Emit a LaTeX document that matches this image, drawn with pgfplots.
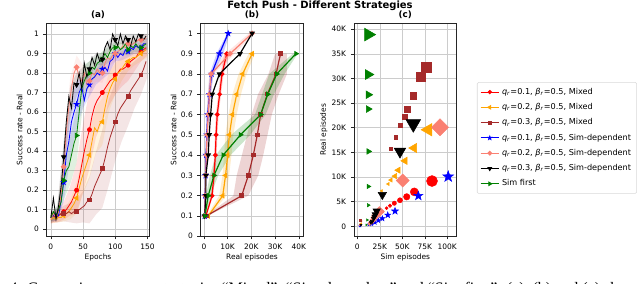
\documentclass[border=0pt]{standalone}
\usepackage{fontspec}
\setmainfont{DejaVu Sans}
\newfontfamily\capfont{Liberation Serif}
\usepackage{pgfplots}
\pgfplotsset{compat=1.18}
\usepackage{pgfplotstable}

\definecolor{mred}{HTML}{FF0000}
\definecolor{morange}{HTML}{FFA500}
\definecolor{mbrown}{HTML}{A52A2A}
\definecolor{mblue}{HTML}{0000FF}
\definecolor{msalmon}{HTML}{FA8072}
\definecolor{mgreen}{HTML}{008000}

\pgfdeclareplotmark{fstar}{%
 \pgfpathmoveto{\pgfpointpolar{90}{\pgfplotmarksize}}%
 \pgfpathlineto{\pgfpointpolar{126}{0.4\pgfplotmarksize}}%
 \pgfpathlineto{\pgfpointpolar{162}{\pgfplotmarksize}}%
 \pgfpathlineto{\pgfpointpolar{198}{0.4\pgfplotmarksize}}%
 \pgfpathlineto{\pgfpointpolar{234}{\pgfplotmarksize}}%
 \pgfpathlineto{\pgfpointpolar{270}{0.4\pgfplotmarksize}}%
 \pgfpathlineto{\pgfpointpolar{306}{\pgfplotmarksize}}%
 \pgfpathlineto{\pgfpointpolar{342}{0.4\pgfplotmarksize}}%
 \pgfpathlineto{\pgfpointpolar{18}{\pgfplotmarksize}}%
 \pgfpathlineto{\pgfpointpolar{54}{0.4\pgfplotmarksize}}%
 \pgfpathclose
 \pgfusepathqfillstroke}

% ---------- panel (a): learning curves ----------
\pgfplotstableread{
e   red  orange brown blue salmon black green
0   0.06 0.05 0.06 0.06 0.05 0.06 0.06
4   0.07 0.06 0.07 0.07 0.08 0.16 0.09
8   0.06 0.05 0.06 0.08 0.06 0.05 0.07
12  0.07 0.06 0.07 0.07 0.09 0.12 0.10
16  0.08 0.06 0.08 0.15 0.18 0.22 0.14
20  0.09 0.07 0.08 0.24 0.32 0.37 0.25
24  0.10 0.08 0.08 0.38 0.50 0.55 0.30
28  0.12 0.09 0.09 0.45 0.63 0.68 0.32
32  0.14 0.11 0.08 0.55 0.72 0.62 0.38
36  0.17 0.13 0.09 0.60 0.80 0.75 0.44
40  0.20 0.16 0.09 0.64 0.83 0.74 0.48
44  0.26 0.21 0.10 0.70 0.78 0.80 0.60
48  0.33 0.26 0.11 0.73 0.76 0.72 0.72
52  0.40 0.30 0.12 0.66 0.80 0.85 0.76
56  0.46 0.34 0.14 0.72 0.74 0.78 0.79
60  0.51 0.38 0.15 0.74 0.76 0.82 0.80
64  0.58 0.45 0.18 0.77 0.80 0.88 0.83
68  0.63 0.52 0.22 0.78 0.79 0.84 0.82
72  0.66 0.50 0.25 0.80 0.82 0.90 0.85
76  0.68 0.54 0.28 0.79 0.80 0.86 0.86
80  0.70 0.55 0.31 0.82 0.80 0.87 0.87
84  0.72 0.62 0.36 0.83 0.85 0.93 0.90
88  0.74 0.68 0.42 0.81 0.88 0.96 0.88
92  0.76 0.72 0.47 0.86 0.87 0.92 0.91
96  0.77 0.75 0.51 0.87 0.89 1.00 0.93
100 0.79 0.77 0.55 0.90 0.90 0.97 0.93
104 0.80 0.80 0.59 0.88 0.91 0.94 0.94
108 0.82 0.81 0.62 0.90 0.92 1.00 0.92
112 0.82 0.83 0.64 0.89 0.94 0.95 0.93
116 0.83 0.85 0.66 0.92 0.93 0.99 0.95
120 0.84 0.86 0.68 0.91 0.95 0.97 0.92
124 0.86 0.87 0.71 0.93 0.94 0.94 0.94
128 0.87 0.88 0.73 0.92 0.95 0.99 0.93
132 0.88 0.88 0.75 0.94 0.96 0.96 0.95
136 0.90 0.89 0.77 0.93 0.97 1.00 0.93
140 0.91 0.90 0.79 0.93 0.97 0.99 0.93
144 0.92 0.91 0.82 0.95 0.97 0.97 0.94
148 0.93 0.92 0.86 0.95 0.98 0.99 0.95
}\curvesA

% ---------- panel (b): real episodes (K) per success level ----------
\pgfplotstableread{
y   x
0.1 0.8
0.2 3.4
0.3 4.2
0.4 4.8
0.5 5.1
0.6 5.6
0.7 6.6
0.8 7.6
0.9 9.6
}\redB
\pgfplotstableread{
y   x
0.1 1.8
0.2 7.9
0.3 9.1
0.4 10.0
0.5 10.7
0.6 12.0
0.7 13.8
0.8 16.3
0.9 20.3
}\orangeB
\pgfplotstableread{
y   x
0.1 1.0
0.2 15.9
0.3 18.7
0.4 20.8
0.5 22.5
0.6 23.9
0.7 26.7
0.8 30.4
0.9 32.3
}\brownB
\pgfplotstableread{
y   x
0.1 0.3
0.2 0.5
0.3 0.7
0.4 0.9
0.5 1.2
0.6 1.6
0.7 2.3
0.8 3.2
0.9 6.5
1.0 10.2
}\blueB
\pgfplotstableread{
y   x
0.1 0.3
0.2 0.5
0.3 0.7
0.4 1.0
0.5 1.3
0.6 1.8
0.7 2.3
0.8 3.0
0.9 11.0
1.0 20.3
}\salmonB
\pgfplotstableread{
y   x
0.1 0.3
0.2 0.8
0.3 0.8
0.4 1.8
0.5 2.2
0.6 2.8
0.7 3.5
0.8 6.5
0.9 15.2
1.0 20.3
}\blackB
\pgfplotstableread{
y   x
0.1 0.4
0.2 1.8
0.3 4.2
0.4 8.1
0.5 15.4
0.6 23.9
0.7 26.9
0.8 30.7
0.9 38.8
}\greenB

% ---------- panel (c): sim episodes (K), real episodes (K), marker radius (pt) ----------
\pgfplotstableread{
x    y    r
4.0  1.1  0.75
28.0 3.0  0.95
32.5 3.7  1.1
36.3 4.2  1.3
41.1 4.7  1.6
47.4 5.3  1.9
54.9 6.0  2.4
63.3 7.0  3.0
83.0 9.2  4.1
}\redC
\pgfplotstableread{
x    y    r
4.0  0.5  0.9
27.0 7.2  1.1
34.4 8.6  1.35
37.4 9.4  1.8
41.9 10.2 2.25
45.6 11.4 2.7
53.0 13.3 3.15
63.0 15.9 4.0
78.9 19.6 5.4
}\orangeC
\pgfplotstableread{
x    y    r
3.8  1.3  0.75
37.1 15.7 1.1
43.0 18.1 1.3
48.2 20.6 1.5
53.0 22.2 1.9
56.0 23.8 2.25
62.2 26.5 2.6
70.4 30.3 3.4
76.3 32.3 3.75
}\brownC
\pgfplotstableread{
x     y    r
3.0   0.1  0.8
13.0  0.4  1.2
15.9  0.5  1.4
19.6  0.8  1.6
23.3  1.2  1.75
27.8  1.6  2.0
33.8  2.3  2.3
41.9  3.1  2.7
67.8  6.2  3.5
101.0 10.1 4.3
}\blueC
\pgfplotstableread{
x    y    r
3.0  0.3  0.55
13.5 0.5  0.8
14.5 0.7  1.05
16.0 1.0  1.3
17.5 1.3  1.6
19.0 1.8  1.85
21.0 2.3  2.1
24.5 3.0  2.65
50.4 9.3  3.45
91.9 20.1 4.5
}\salmonC
\pgfplotstableread{
x    y    r
4.0  0.3  0.9
15.0 0.8  1.35
16.5 1.0  1.6
18.0 1.6  1.8
19.0 2.0  2.25
20.0 2.4  2.7
21.5 3.1  3.15
27.8 6.4  3.6
47.4 15.2 4.95
62.2 20.8 6.3
}\blackC
\pgfplotstableread{
x    y    r
10.0 0.3  0.7
11.0 1.3  1.0
12.2 4.3  1.4
12.2 8.1  1.9
12.4 15.2 2.4
12.2 23.8 2.9
12.2 26.7 3.3
12.2 30.8 4.2
12.2 38.9 5.5
}\greenC

\newcommand{\fs}{\fontsize{5.6}{6.5}\selectfont}

\pgfplotsset{
 panel/.style={
  scale only axis, width=77pt, height=159.75pt, anchor=south west,
  grid=major, grid style={black!20, line width=0.45pt},
  axis line style={black!85, line width=0.45pt},
  tick align=outside, tick pos=left, major tick length=2.4pt,
  tick style={black!85, line width=0.45pt},
  every tick label/.append style={font=\fs},
  label style={font=\fs},
  xlabel shift=-3.6pt, ylabel shift=-3.6pt,
  every axis title/.style={font=\bfseries\fontsize{6.6}{7}\selectfont, at={(0.5,1)}, anchor=base, yshift=4.0pt, inner sep=0pt},
  /pgf/number format/assume math mode=true,
 },
 bandA/.style={fill=#1, fill opacity=0.12, draw=none, forget plot},
 bandB/.style={fill=#1, fill opacity=0.2, draw=none, forget plot},
}

\newcommand{\scat}[4]{%
 \addplot[scatter, only marks, forget plot, mark=#3, #4,
   scatter/use mapped color={draw=#2, fill=#2},
   visualization depends on={\thisrow{r}\as\rr},
   scatter/@pre marker code/.append style={/tikz/mark size=\rr pt}]
   table[x=x, y=y]{#1};
}

\begin{document}
\begin{tikzpicture}
\useasboundingbox (0,0) rectangle (480pt,213pt);

% ---------------- (a) ----------------
\begin{axis}[panel, at={(35pt,35.8pt)},
  xmin=-6.5, xmax=153, ymin=-0.036, ymax=1.055,
  xtick={0,50,100,150},
  ytick={0,0.1,0.2,0.3,0.4,0.5,0.6,0.7,0.8,0.9,1},
  yticklabels={0,0.1,0.2,0.3,0.4,0.5,0.6,0.7,0.8,0.9,1},
  xlabel={Epochs}, ylabel={Success rate - Real}, title={(a)}]
 % bands: upper edge forward, lower edge backward
 \addplot[bandA=mred] coordinates {(0,.09)(10,.10)(20,.14)(30,.22)(40,.34)(50,.54)(60,.71)(70,.82)(80,.85)(90,.87)(100,.89)(110,.91)(120,.92)(130,.94)(140,.96)(150,.97)
   (150,.89)(140,.86)(130,.81)(120,.76)(110,.73)(100,.69)(90,.63)(80,.55)(70,.47)(60,.31)(50,.19)(40,.08)(30,.07)(20,.05)(10,.035)(0,.03)};
 \addplot[bandA=morange] coordinates {(0,.07)(10,.075)(20,.10)(30,.15)(40,.24)(50,.38)(60,.50)(70,.63)(80,.67)(90,.80)(100,.85)(110,.88)(120,.91)(130,.92)(140,.94)(150,.96)
   (150,.88)(140,.86)(130,.84)(120,.81)(110,.76)(100,.69)(90,.60)(80,.43)(70,.39)(60,.26)(50,.18)(40,.08)(30,.05)(20,.04)(10,.035)(0,.03)};
 \addplot[bandA=mbrown] coordinates {(0,.08)(10,.095)(20,.12)(30,.135)(40,.15)(50,.195)(60,.27)(70,.395)(80,.51)(90,.665)(100,.75)(110,.81)(120,.83)(130,.86)(140,.89)(150,.94)
   (150,.78)(140,.69)(130,.62)(120,.53)(110,.45)(100,.35)(90,.225)(80,.11)(70,.075)(60,.03)(50,.035)(40,.03)(30,.035)(20,.04)(10,.035)(0,.04)};
 \addplot[bandA=mblue] coordinates {(0,.08)(10,.105)(20,.34)(30,.64)(40,.76)(50,.78)(60,.80)(70,.84)(80,.87)(90,.875)(100,.94)(110,.925)(120,.94)(130,.96)(140,.96)(150,.98)
   (150,.92)(140,.90)(130,.90)(120,.88)(110,.865)(100,.86)(90,.795)(80,.77)(70,.74)(60,.68)(50,.62)(40,.52)(30,.36)(20,.14)(10,.045)(0,.04)};
 \addplot[bandA=msalmon] coordinates {(0,.07)(10,.105)(20,.42)(30,.775)(40,.89)(50,.84)(60,.82)(70,.855)(80,.85)(90,.915)(100,.94)(110,.96)(120,.98)(130,.975)(140,.99)(150,1.0)
   (150,.96)(140,.95)(130,.935)(120,.92)(110,.90)(100,.86)(90,.835)(80,.75)(70,.755)(60,.70)(50,.72)(40,.77)(30,.575)(20,.22)(10,.045)(0,.03)};
 \addplot[bandA=black] coordinates {(0,.09)(10,.12)(20,.45)(30,.73)(40,.80)(50,.83)(60,.86)(70,.90)(80,.90)(90,.97)(100,1.0)(110,1.0)(120,1.0)(130,1.0)(140,1.0)(150,1.0)
   (150,.97)(140,.97)(130,.95)(120,.94)(110,.95)(100,.94)(90,.91)(80,.84)(70,.84)(60,.78)(50,.74)(40,.68)(30,.57)(20,.29)(10,.05)(0,.03)};
 \addplot[bandA=mgreen] coordinates {(0,.08)(10,.115)(20,.35)(30,.47)(40,.62)(50,.84)(60,.86)(70,.885)(80,.91)(90,.935)(100,.96)(110,.955)(120,.95)(130,.97)(140,.96)(150,.98)
   (150,.92)(140,.90)(130,.91)(120,.89)(110,.895)(100,.90)(90,.855)(80,.83)(70,.785)(60,.74)(50,.64)(40,.34)(30,.23)(20,.15)(10,.055)(0,.04)};
 \addplot[mred, line width=0.6pt, mark=*, mark size=1.5pt, mark phase=6, mark repeat=5] table[x=e, y=red]{\curvesA};
 \addplot[morange, line width=0.6pt, mark=triangle*, mark size=1.9pt, mark options={rotate=90}, mark phase=6, mark repeat=5] table[x=e, y=orange]{\curvesA};
 \addplot[mbrown, line width=0.6pt, mark=square*, mark size=1.4pt, mark phase=6, mark repeat=5] table[x=e, y=brown]{\curvesA};
 \addplot[mblue, line width=0.6pt, mark=fstar, mark size=1.8pt, mark phase=6, mark repeat=5] table[x=e, y=blue]{\curvesA};
 \addplot[msalmon, line width=0.6pt, mark=square*, mark size=1.3pt, mark options={rotate=45}, mark phase=6, mark repeat=5] table[x=e, y=salmon]{\curvesA};
 \addplot[mgreen, line width=0.6pt, mark=triangle*, mark size=1.9pt, mark options={rotate=-90}, mark phase=6, mark repeat=5] table[x=e, y=green]{\curvesA};
 \addplot[black, line width=0.6pt, mark=triangle*, mark size=1.9pt, mark options={rotate=180}, mark phase=6, mark repeat=5] table[x=e, y=black]{\curvesA};
\end{axis}

% ---------------- (b) ----------------
\begin{axis}[panel, at={(150.5pt,35.8pt)},
  xmin=-1.4, xmax=41.9, ymin=0, ymax=1.05,
  xtick={0,10,20,30,40}, xticklabels={0,10K,20K,30K,40K},
  ytick={0,0.1,0.2,0.3,0.4,0.5,0.6,0.7,0.8,0.9,1},
  yticklabels={0,0.1,0.2,0.3,0.4,0.5,0.6,0.7,0.8,0.9,1},
  xlabel={Real episodes}, ylabel={Success rate - Real}, title={(b)}]
 \addplot[bandB=mred] coordinates {(1.1,.1)(3.9,.2)(4.7,.3)(5.3,.4)(5.7,.5)(6.2,.6)(7.2,.7)(8.3,.8)(10.6,.9)(8.6,.9)(6.9,.8)(6.0,.7)(5.0,.6)(4.6,.5)(4.3,.4)(3.7,.3)(2.9,.2)(0.5,.1)};
 \addplot[bandB=morange] coordinates {(2.4,.1)(9.4,.2)(10.6,.3)(11.6,.4)(12.4,.5)(13.8,.6)(15.6,.7)(18.0,.8)(21.5,.9)(18.8,.9)(14.6,.8)(12.0,.7)(10.3,.6)(9.0,.5)(8.5,.4)(7.8,.3)(6.4,.2)(1.2,.1)};
 \addplot[bandB=mbrown] coordinates {(1.4,.1)(18.7,.2)(22.9,.3)(25.0,.4)(26.8,.5)(28.6,.6)(31.5,.7)(35.0,.8)(35.0,.9)(30.0,.9)(27.2,.8)(22.8,.7)(20.1,.6)(18.2,.5)(16.0,.4)(13.8,.3)(12.4,.2)(0.6,.1)};
 \addplot[bandB=mblue] coordinates {(0.4,.1)(0.7,.2)(1.0,.3)(1.2,.4)(1.6,.5)(2.1,.6)(2.9,.7)(4.0,.8)(8.1,.9)(10.8,1)(9.8,1)(5.3,.9)(2.4,.8)(1.7,.7)(1.1,.6)(0.8,.5)(0.6,.4)(0.4,.3)(0.3,.2)(0.2,.1)};
 \addplot[bandB=msalmon] coordinates {(0.5,.1)(0.8,.2)(1.1,.3)(1.4,.4)(1.8,.5)(2.4,.6)(3.0,.7)(3.9,.8)(13.0,.9)(21.0,1)(19.0,1)(9.0,.9)(2.2,.8)(1.6,.7)(1.2,.6)(0.9,.5)(0.6,.4)(0.4,.3)(0.3,.2)(0.2,.1)};
 \addplot[bandB=mgreen] coordinates {(0.6,.1)(2.8,.2)(6.0,.3)(11.2,.4)(19.5,.5)(26.0,.6)(29.5,.7)(34.0,.8)(39.5,.9)(37.5,.9)(27.5,.8)(24.5,.7)(21.5,.6)(11.5,.5)(5.0,.4)(2.5,.3)(0.8,.2)(0.2,.1)};
 \addplot[mred, line width=0.9pt, mark=*, mark size=1.3pt] table[x=x, y=y]{\redB};
 \addplot[morange, line width=0.9pt, mark=triangle*, mark size=1.6pt, mark options={rotate=90}] table[x=x, y=y]{\orangeB};
 \addplot[mbrown, line width=0.9pt, mark=square*, mark size=1.2pt] table[x=x, y=y]{\brownB};
 \addplot[mblue, line width=0.9pt, mark=fstar, mark size=1.5pt] table[x=x, y=y]{\blueB};
 \addplot[msalmon, line width=0.9pt, mark=square*, mark size=1.1pt, mark options={rotate=45}] table[x=x, y=y]{\salmonB};
 \addplot[black, line width=0.9pt, mark=triangle*, mark size=1.6pt, mark options={rotate=180}] table[x=x, y=y]{\blackB};
 \addplot[mgreen, line width=0.9pt, mark=triangle*, mark size=1.6pt, mark options={rotate=-90}] table[x=x, y=y]{\greenB};
\end{axis}

% ---------------- (c) ----------------
\begin{axis}[panel, at={(265.5pt,35.8pt)},
  xmin=-3.7, xmax=110.4, ymin=-2, ymax=41.2,
  xtick={0,25,50,75,100}, xticklabels={0,25K,50K,75K,100K},
  ytick={0,5,10,15,20,25,30,35,40}, yticklabels={0,5K,10K,15K,20K,25K,30K,35K,40K},
  xlabel={Sim episodes}, ylabel={Real episodes}, title={(c)},
  legend style={at={(1.198,0.724)}, anchor=north west, font=\fontsize{6.1}{7.3}\selectfont,
    draw=black!15, rounded corners=1pt, fill=white, row sep=1.3pt, inner sep=2.2pt},
  legend cell align=left,
  legend image code/.code={\draw[mark repeat=2, mark phase=2, #1] plot coordinates {(0cm,0cm) (0.24cm,0cm) (0.48cm,0cm)};}]
 \scat{\redC}{mred}{*}{}
 \scat{\orangeC}{morange}{triangle*}{mark options={rotate=90}}
 \scat{\brownC}{mbrown}{square*}{}
 \scat{\blueC}{mblue}{fstar}{}
 \scat{\salmonC}{msalmon}{square*}{mark options={rotate=45}}
 \scat{\blackC}{black}{triangle*}{mark options={rotate=180}}
 \scat{\greenC}{mgreen}{triangle*}{mark options={rotate=-90}}
 \addlegendimage{mred, line width=0.7pt, mark=*, mark size=1.2pt}
 \addlegendentry{\textit{q}\textsubscript{\textit{r}}=0.1, \textit{β}\textsubscript{\textit{r}}=0.5, Mixed}
 \addlegendimage{morange, line width=0.7pt, mark=triangle*, mark size=1.5pt, mark options={rotate=90}}
 \addlegendentry{\textit{q}\textsubscript{\textit{r}}=0.2, \textit{β}\textsubscript{\textit{r}}=0.5, Mixed}
 \addlegendimage{mbrown, line width=0.7pt, mark=square*, mark size=1.1pt}
 \addlegendentry{\textit{q}\textsubscript{\textit{r}}=0.3, \textit{β}\textsubscript{\textit{r}}=0.5, Mixed}
 \addlegendimage{mblue, line width=0.7pt, mark=fstar, mark size=1.3pt}
 \addlegendentry{\textit{q}\textsubscript{\textit{r}}=0.1, \textit{β}\textsubscript{\textit{r}}=0.5, Sim-dependent}
 \addlegendimage{msalmon, line width=0.7pt, mark=square*, mark size=1.0pt, mark options={rotate=45}}
 \addlegendentry{\textit{q}\textsubscript{\textit{r}}=0.2, \textit{β}\textsubscript{\textit{r}}=0.5, Sim-dependent}
 \addlegendimage{black, line width=0.7pt, mark=triangle*, mark size=1.5pt, mark options={rotate=180}}
 \addlegendentry{\textit{q}\textsubscript{\textit{r}}=0.3, \textit{β}\textsubscript{\textit{r}}=0.5, Sim-dependent}
 \addlegendimage{mgreen, line width=0.7pt, mark=triangle*, mark size=1.5pt, mark options={rotate=-90}}
 \addlegendentry{Sim first}
\end{axis}

\node[font=\bfseries\fontsize{7.5}{8.5}\selectfont, anchor=center] at (240pt,208.3pt) {Fetch Push - Different Strategies};

\node[font=\capfont\fontsize{12}{13}\selectfont, anchor=base east, inner sep=0pt] at (5pt,-7.4pt) {Figure};
\node[font=\capfont\fontsize{12}{13}\selectfont, anchor=base west, inner sep=0pt] at (7pt,-7.4pt) {4: Comparison among strategies “Mixed”, “Sim-dependent” and “Sim first”. (a), (b) and (c) show};
\end{tikzpicture}
\end{document}
